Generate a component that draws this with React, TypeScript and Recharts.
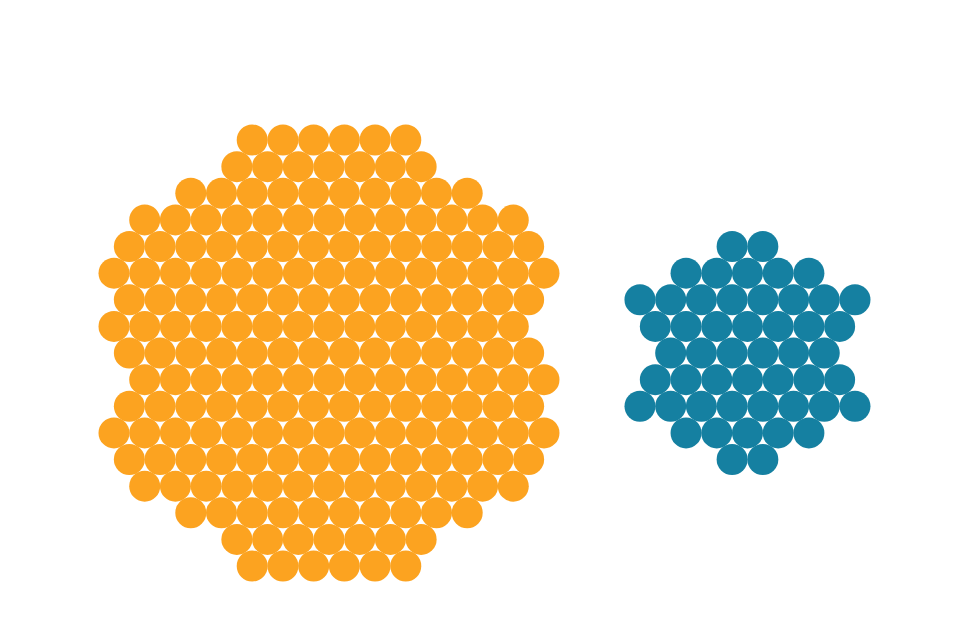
import { Scatter, ScatterChart, XAxis, YAxis } from "recharts";

// two items: the orange one has 200 units, the blue one 50
const seriesNames = ["Orange", "Blue"];
const seriesValues = [200, 50];
const seriesColors = ["#FCA320", "#1580A1"];

// honeycomb rows for each item: first column (in half steps) and how many units in the row
const orangeRowStarts = [9, 8, 5, 2, 1, 0, 1, 0, 1, 2, 1, 0, 1, 2, 5, 8, 9];
const orangeRowCounts = [6, 7, 10, 13, 14, 15, 14, 14, 14, 14, 14, 15, 14, 13, 10, 7, 6];
const blueRowStarts = [6, 3, 0, 1, 2, 1, 0, 3, 6];
const blueRowCounts = [2, 5, 8, 7, 6, 7, 8, 5, 2];

const WIDTH = 976;
const HEIGHT = 619;
const HALF_STEP = 15.357; // px per half column
const ROW_STEP = 26.625; // px per row
const RADIUS = 15.5;

// where each honeycomb sits, in grid units
const groupOrigins = [
  { x: 0, y: 0 },
  { x: 34.25, y: 4 },
];

const layouts = [
  { starts: orangeRowStarts, counts: orangeRowCounts },
  { starts: blueRowStarts, counts: blueRowCounts },
];

function buildPoints(groupIndex: number) {
  const { starts, counts } = layouts[groupIndex];
  const origin = groupOrigins[groupIndex];
  const points: Array<{ x: number; y: number }> = [];
  starts.forEach((start, row) => {
    for (let i = 0; i < counts[row]; i++) {
      points.push({ x: origin.x + start + i * 2, y: origin.y + row });
    }
  });
  return points.slice(0, seriesValues[groupIndex]);
}

const xMin = -114 / HALF_STEP;
const xMax = xMin + WIDTH / HALF_STEP;
const yMin = -140 / ROW_STEP;
const yMax = yMin + HEIGHT / ROW_STEP;

export default function App() {
  return (
    <div style={{ position: "absolute", left: 0, top: 0, width: WIDTH, height: HEIGHT, background: "#fff" }}>
      <ScatterChart width={WIDTH} height={HEIGHT} margin={{ top: 0, right: 0, bottom: 0, left: 0 }}>
        <XAxis type="number" dataKey="x" domain={[xMin, xMax]} hide allowDataOverflow />
        <YAxis type="number" dataKey="y" domain={[yMin, yMax]} reversed hide allowDataOverflow width={0} />
        {seriesNames.map((name, i) => (
          <Scatter
            key={name}
            name={name}
            data={buildPoints(i)}
            fill={seriesColors[i]}
            isAnimationActive={false}
            shape={(props: any) => (
              <circle cx={props.cx} cy={props.cy} r={RADIUS} fill={seriesColors[i]} />
            )}
          />
        ))}
      </ScatterChart>
    </div>
  );
}
